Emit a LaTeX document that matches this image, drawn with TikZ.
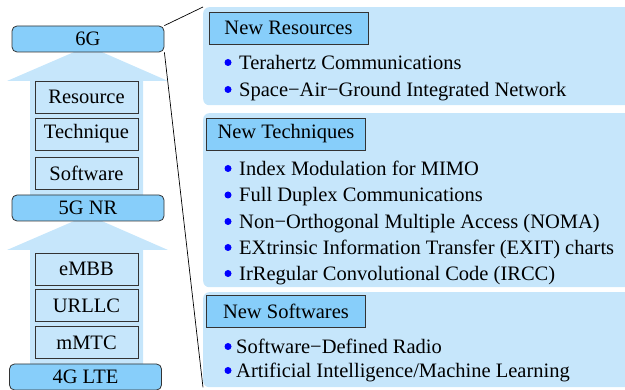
\documentclass[tikz,border=0pt]{standalone}
\usepackage{fontspec}
\setmainfont{Liberation Serif}
\definecolor{boxblue}{HTML}{87CEFA}
\definecolor{paleblue}{HTML}{C6E6FB}
\definecolor{edgegray}{HTML}{333333}
\begin{document}
\begin{tikzpicture}[x=1pt,y=-1pt, font=\fontsize{20.5}{24}\selectfont,
  gen/.style={draw=edgegray, fill=boxblue, rounded corners=5pt, line width=0.8pt, inner sep=0pt, minimum width=152pt, minimum height=26pt},
  sub/.style={draw=edgegray, fill=paleblue, line width=0.8pt, inner sep=0pt, minimum width=103pt, minimum height=32pt},
  head/.style={draw=edgegray, fill=boxblue, line width=0.8pt, inner sep=0pt, minimum width=159pt, minimum height=32pt},
  panel/.style={fill=paleblue, rounded corners=6pt, inner sep=0pt, anchor=north west, minimum width=440pt},
  item/.style={anchor=west, inner sep=0pt, text height=14pt, text depth=4pt},
  bulletdot/.style={circle, fill=blue, inner sep=0pt, minimum size=7pt},
  link/.style={draw=black, line width=0.7pt}]
\useasboundingbox (0,0) rectangle (625,390);
\clip (0,0) rectangle (625,390);
% panels
\node[panel, minimum height=98pt] (p1) at (203,7) {};
\node[panel, minimum height=174pt] (p2) at (203,113) {};
\node[panel, minimum height=95pt] (p3) at (203,292) {};
% arrows
\fill[paleblue] (30,195) -- (30,81) -- (7,81) -- (88,46) -- (168,81) -- (143,81) -- (143,195) -- cycle;
\fill[paleblue] (30,364) -- (30,250) -- (7,250) -- (88,215) -- (168,250) -- (143,250) -- (143,364) -- cycle;
% generation boxes
\node[gen] (g6) at (88,39) {6G};
\node[gen] (g5) at (88,208) {5G NR};
\node[gen] (g4) at (85.5,377) {4G LTE};
% sub boxes
\node[sub] (res) at (86.5,97) {Resource};
\node[sub] (tech) at (86.5,134) {Technique};
\node[sub] (soft) at (86.5,173.5) {Software};
\node[sub] (embb) at (86.5,269) {eMBB};
\node[sub] (urllc) at (86.5,305.5) {URLLC};
\node[sub] (mmtc) at (86.5,342.5) {mMTC};
% headers
\node[head] (h1) at (288.5,28) {New Resources};
\node[head] (h2) at (286,134) {New Techniques};
\node[head] (h3) at (286,311) {New Softwares};
% items
\node[bulletdot] (b1) at (228,62.5) {};
\node[item] (i1) at (239,64.5) {Terahertz Communications};
\node[bulletdot] (b2) at (228,89.5) {};
\node[item] (i2) at (239,91.5) {Space−Air−Ground Integrated Network};
\node[bulletdot] (b3) at (228,168.5) {};
\node[item] (i3) at (239,170.5) {Index Modulation for MIMO};
\node[bulletdot] (b4) at (228,195) {};
\node[item] (i4) at (239,197) {Full Duplex Communications};
\node[bulletdot] (b5) at (228,221.5) {};
\node[item] (i5) at (239,223.5) {Non−Orthogonal Multiple Access (NOMA)};
\node[bulletdot] (b6) at (228,247.5) {};
\node[item] (i6) at (239,249.5) {EXtrinsic Information Transfer (EXIT) charts};
\node[bulletdot] (b7) at (228,273.5) {};
\node[item] (i7) at (239,275.5) {IrRegular Convolutional Code (IRCC)};
\node[bulletdot] (b8) at (228,346.5) {};
\node[item] (i8) at (236,348.5) {Software−Defined Radio};
\node[bulletdot] (b9) at (228,370.5) {};
\node[item] (i9) at (236,372.5) {Artificial Intelligence/Machine Learning};
% zoom lines
\draw[link] (g6.north east) -- (p1.north west);
\draw[link] (g6.south east) -- (p3.south west);
\end{tikzpicture}
\end{document}
